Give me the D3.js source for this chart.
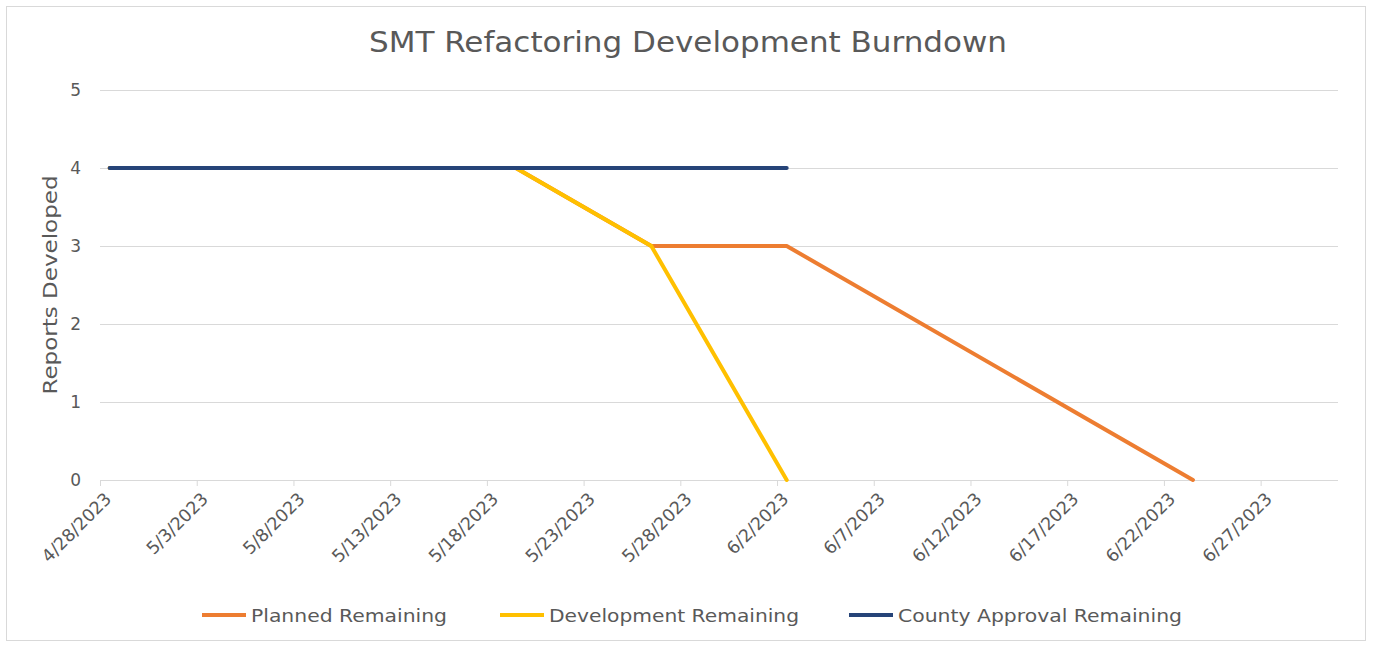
<!DOCTYPE html>
<html><head><meta charset="utf-8">
<script src="https://cdn.jsdelivr.net/npm/d3@7"></script>
<style>body{margin:0;background:#fff;} svg{display:block;}</style>
</head><body>
<svg id="chart" width="1373" height="647"></svg>
<script>
const title = "SMT Refactoring Development Burndown";
const yTitle = "Reports Developed";
const seriesNames = ["Planned Remaining", "Development Remaining", "County Approval Remaining"];
const seriesColors = ["#ED7D31", "#FFC000", "#264478"];
const plannedDates = ["2023-04-28", "2023-05-19", "2023-05-26", "2023-06-02", "2023-06-23"];
const plannedValues = [4, 4, 3, 3, 0];
const developmentDates = ["2023-04-28", "2023-05-19", "2023-05-26", "2023-06-02"];
const developmentValues = [4, 4, 3, 0];
const countyDates = ["2023-04-28", "2023-06-02"];
const countyValues = [4, 4];
const xTickDates = ["2023-04-28","2023-05-03","2023-05-08","2023-05-13","2023-05-18","2023-05-23","2023-05-28","2023-06-02","2023-06-07","2023-06-12","2023-06-17","2023-06-22","2023-06-27"];
const xDomain = ["2023-04-28", "2023-07-01"];
const yTicks = [0, 1, 2, 3, 4, 5];

(function(){
const parse = d3.timeParse("%Y-%m-%d");
const fmt = d => (d.getMonth()+1) + "/" + d.getDate() + "/" + d.getFullYear();
const font = "'DejaVu Sans', sans-serif";
const textColor = "#595959";

const svg = d3.select("#chart");
svg.append("rect").attr("x", 6.5).attr("y", 6.5).attr("width", 1359).attr("height", 634)
  .attr("fill", "#fff").attr("stroke", "#d9d9d9");

const pl = 100, pr = 1338, pt = 90, pb = 480;
const x = d3.scaleTime().domain(xDomain.map(parse)).range([pl, pr]);
const y = d3.scaleLinear().domain([0, 5]).range([pb, pt]);
const halfDay = 12 * 3600 * 1000;
const xc = d => x(new Date(d.getTime() + halfDay));

svg.append("g").selectAll("line").data(yTicks.filter(v => v > 0)).join("line")
  .attr("x1", pl).attr("x2", pr).attr("y1", d => y(d) + 0.5).attr("y2", d => y(d) + 0.5)
  .attr("stroke", "#d9d9d9").attr("stroke-width", 1);

const yAxis = d3.axisLeft(y).tickValues(yTicks).tickSize(0).tickPadding(0).tickFormat(d3.format("d"));
const yg = svg.append("g").attr("transform", `translate(${pl - 19},0)`).call(yAxis);
yg.select(".domain").remove();
yg.selectAll("text").attr("font-family", font).attr("font-size", 17).attr("fill", textColor);

const xAxis = d3.axisBottom(x).tickValues(xTickDates.map(parse)).tickSize(6).tickFormat(fmt);
const xg = svg.append("g").attr("transform", `translate(0,${pb})`).call(xAxis);
xg.select(".domain").attr("stroke", "#d9d9d9").attr("d", `M${pl},0.5H${pr}`);
xg.selectAll(".tick line").attr("stroke", "#d9d9d9");
xg.selectAll("text").attr("font-family", font).attr("font-size", 17.5).attr("fill", textColor)
  .attr("text-anchor", "end").attr("dy", 0).attr("y", 0)
  .attr("transform", "translate(12,20) rotate(-45)");

svg.append("text").attr("transform", `translate(57,285) rotate(-90)`)
  .attr("text-anchor", "middle").attr("font-family", font).attr("font-size", 19)
  .attr("textLength", 219).attr("lengthAdjust", "spacingAndGlyphs")
  .attr("fill", textColor).text(yTitle);

svg.append("text").attr("x", 369).attr("y", 52)
  .attr("font-family", font).attr("font-size", 28).attr("fill", textColor)
  .attr("textLength", 638).attr("lengthAdjust", "spacingAndGlyphs").text(title);

const line = d3.line().x(d => xc(d.date)).y(d => y(d.value));
const series = [
  {dates: plannedDates, values: plannedValues},
  {dates: developmentDates, values: developmentValues},
  {dates: countyDates, values: countyValues}
];
series.forEach((s, i) => {
  const pts = s.dates.map((d, j) => ({date: parse(d), value: s.values[j]}));
  svg.append("path").datum(pts).attr("d", line).attr("fill", "none")
    .attr("stroke", seriesColors[i]).attr("stroke-width", 4)
    .attr("stroke-linejoin", "round").attr("stroke-linecap", "round");
});

const legendX = [202, 500, 849];
const legendLen = [196, 250, 284];
const lg = svg.append("g");
seriesNames.forEach((n, i) => {
  lg.append("line").attr("x1", legendX[i]).attr("x2", legendX[i] + 44)
    .attr("y1", 615).attr("y2", 615).attr("stroke", seriesColors[i]).attr("stroke-width", 4);
  lg.append("text").attr("x", legendX[i] + 49).attr("y", 622).attr("font-family", font)
    .attr("font-size", 18).attr("fill", textColor)
    .attr("textLength", legendLen[i]).attr("lengthAdjust", "spacingAndGlyphs").text(n);
});
})();
</script>
</body></html>
